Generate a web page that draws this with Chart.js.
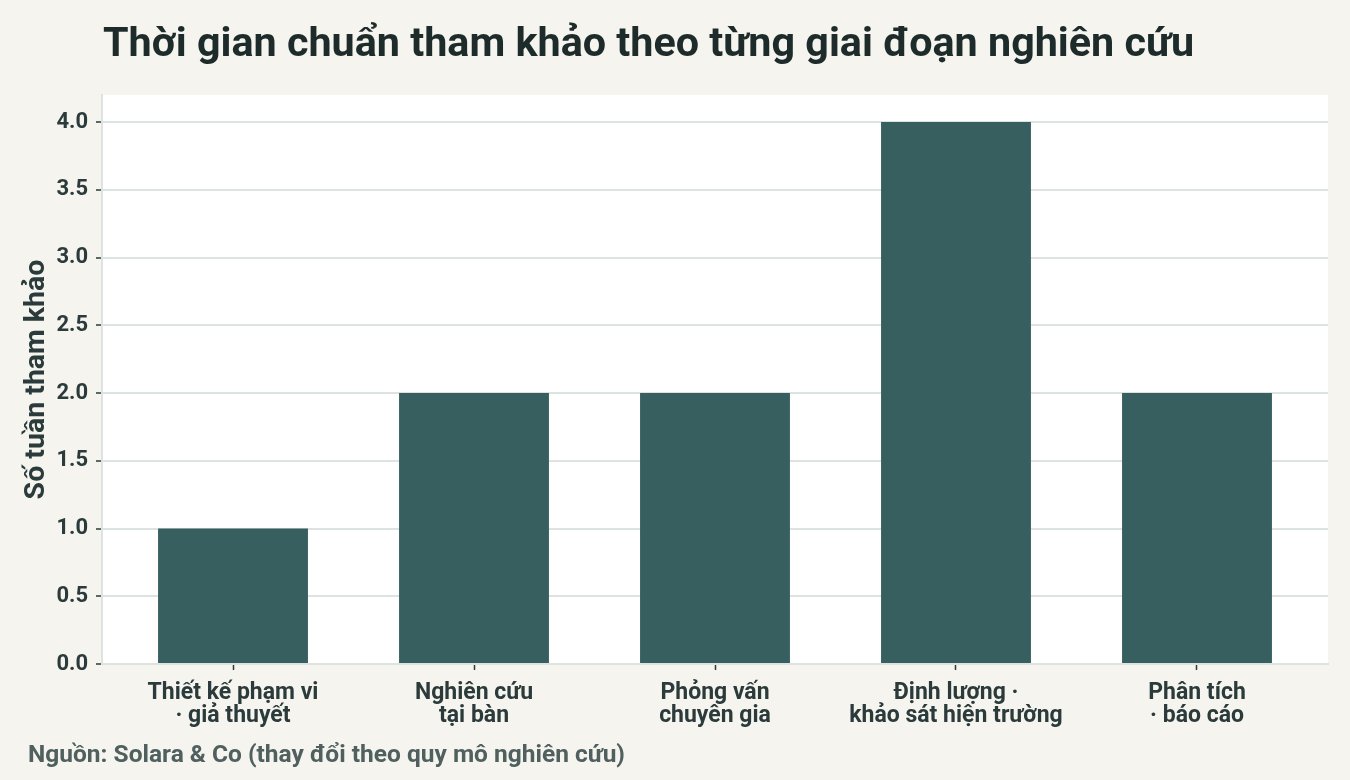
<!DOCTYPE html>
<html>
<head>
<meta charset="utf-8">
<script src="https://cdn.jsdelivr.net/npm/chart.js@4.4.1/dist/chart.umd.min.js"></script>
<style>
  html, body { margin: 0; padding: 0; background: #f5f4ef; }
  body { width: 1350px; height: 780px; position: relative; overflow: hidden; font-family: Roboto, "Noto Sans", sans-serif; }
  #title { position: absolute; left: 103px; top: 22px; font-size: 41.3px; line-height: 1; font-weight: 700; color: #1e2b2b; white-space: nowrap; }
  #source { position: absolute; left: 28px; top: 742px; font-size: 24.5px; line-height: 1; font-weight: 700; color: #4f605f; white-space: nowrap; }
  #wrap { position: absolute; left: 0; top: 0; width: 1350px; height: 780px; }
</style>
</head>
<body>
<div id="wrap"><canvas id="c" width="1350" height="780"></canvas></div>
<div id="title">Thời gian chuẩn tham khảo theo từng giai đoạn nghiên cứu</div>
<div id="source">Nguồn: Solara &amp; Co (thay đổi theo quy mô nghiên cứu)</div>
<script>
const categories = [
  ["Thiết kế phạm vi", "· giả thuyết"],
  ["Nghiên cứu", "tại bàn"],
  ["Phỏng vấn", "chuyên gia"],
  ["Định lượng ·", "khảo sát hiện trường"],
  ["Phân tích", "· báo cáo"]
];
const weeks = [1.0, 2.0, 2.0, 4.0, 2.0];
const yTitle = "Số tuần tham khảo";
const yMin = 0, yMax = 4.2, yStep = 0.5;
const outerPad = 0.0436; // band padding at both ends, in category units

const plotBg = {
  id: 'plotBg',
  beforeDraw(chart) {
    const { ctx, chartArea: a } = chart;
    ctx.save();
    ctx.fillStyle = '#ffffff';
    ctx.fillRect(a.left, a.top, a.right - a.left, a.bottom - a.top);
    ctx.restore();
  }
};

const textColor = '#2b3a3a';

new Chart(document.getElementById('c'), {
  type: 'bar',
  data: {
    datasets: [{
      data: weeks.map((v, i) => ({ x: i, y: v })),
      backgroundColor: '#385f5f',
      borderWidth: 0,
      barPercentage: 0.622,
      categoryPercentage: 1.0
    }]
  },
  plugins: [plotBg],
  options: {
    responsive: false,
    animation: false,
    devicePixelRatio: 1,
    layout: { padding: { top: 95, right: 22, bottom: 0, left: 0 } },
    plugins: { legend: { display: false }, tooltip: { enabled: false }, title: { display: false } },
    scales: {
      x: {
        type: 'linear',
        offset: false,
        min: -0.5 - outerPad,
        max: categories.length - 0.5 + outerPad,
        afterFit(s) { s.height = 116; },
        afterBuildTicks(s) { s.ticks = categories.map((_, i) => ({ value: i })); },
        grid: { display: true, offset: false, drawOnChartArea: false, drawTicks: true, tickLength: 6, tickColor: textColor, tickWidth: 1.5 },
        border: { display: true, color: '#dce3e1', width: 2 },
        ticks: { color: textColor, font: { family: 'Roboto', size: 23, weight: '700', lineHeight: 1.0 }, padding: 12, maxRotation: 0, autoSkip: false, callback: v => categories[v] }
      },
      y: {
        min: yMin, max: yMax,
        afterFit(s) { s.width = 102; },
        afterBuildTicks(s) { s.ticks = s.ticks.filter(t => Math.abs(t.value / yStep - Math.round(t.value / yStep)) < 1e-6); },
        grid: { color: '#dce3e1', lineWidth: 2, drawTicks: true, tickLength: 6, tickColor: textColor, tickWidth: 1.5 },
        border: { display: true, color: '#dce3e1', width: 2 },
        ticks: { stepSize: yStep, color: textColor, padding: 8, font: { family: 'Roboto', size: 22, weight: '700' }, callback: v => Number(v).toFixed(1) },
        title: { display: true, text: yTitle, color: textColor, font: { family: 'Roboto', size: 28.5, weight: '700' }, padding: { top: 20, bottom: 0 } }
      }
    }
  }
});
</script>
</body>
</html>
